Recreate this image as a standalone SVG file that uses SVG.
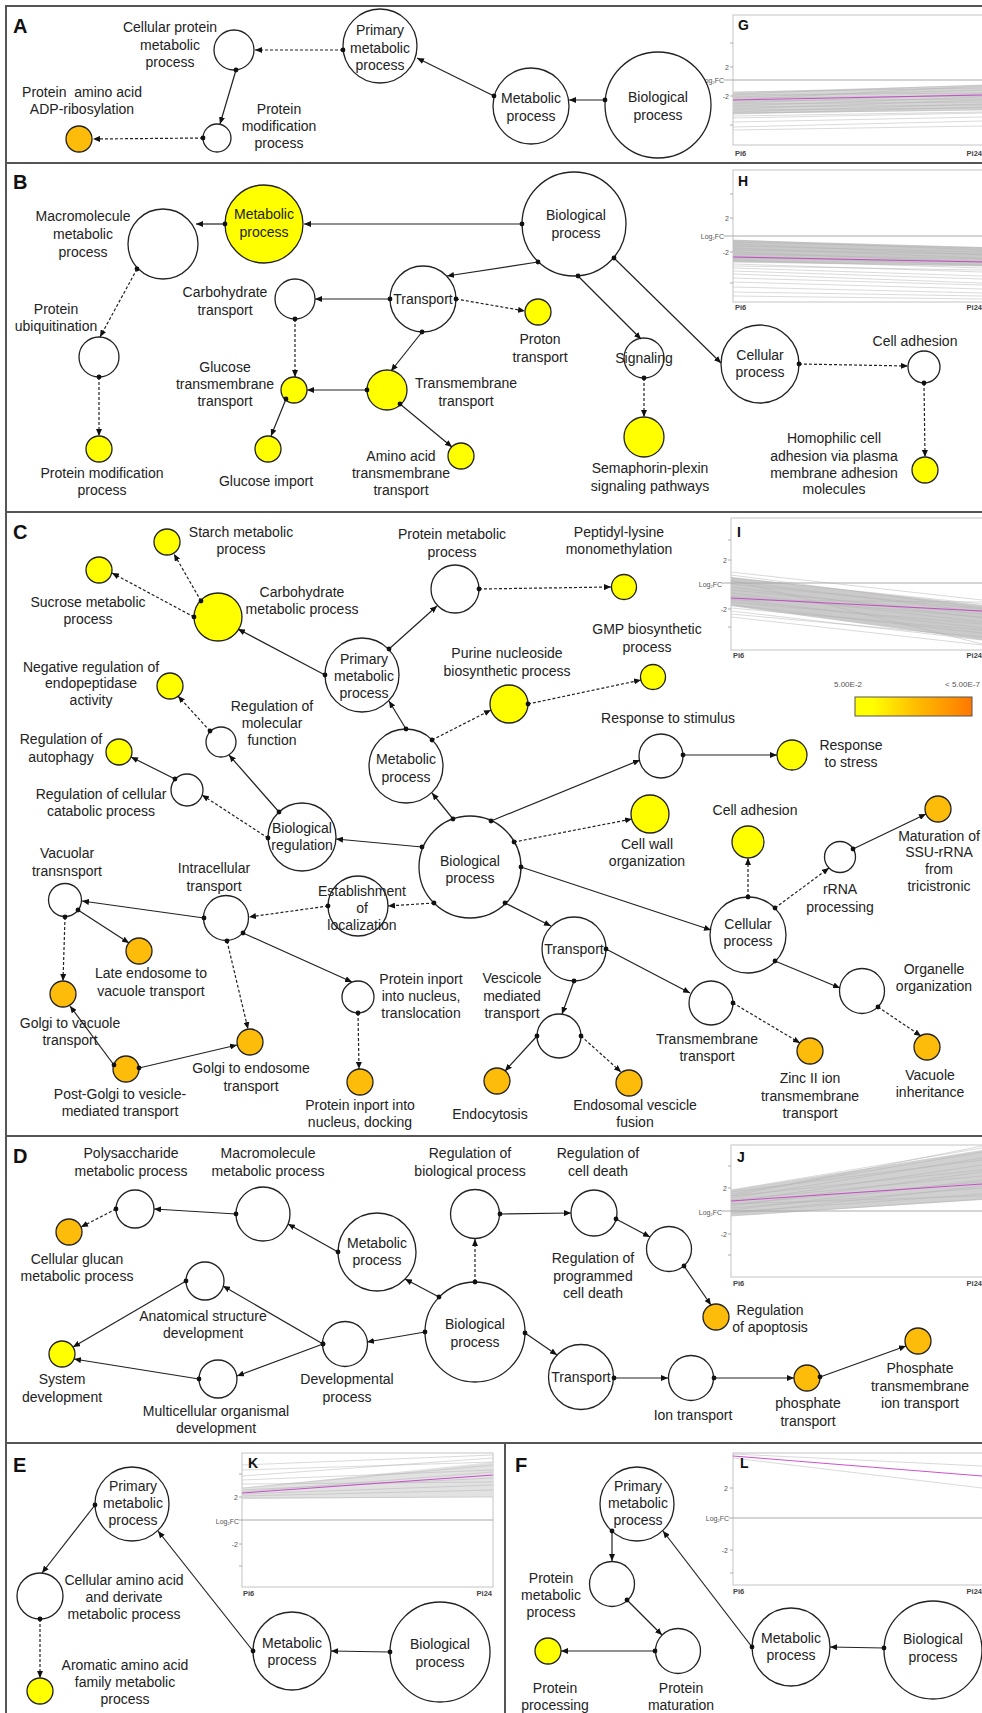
<svg xmlns="http://www.w3.org/2000/svg" width="982" height="1713" viewBox="0 0 982 1713">
<style>
.n{fill:#fff;stroke:#222;stroke-width:1.3}
.y{fill:#ffff00;stroke:#222;stroke-width:1.3}
.o{fill:#fdbb0a;stroke:#222;stroke-width:1.3}
text{font-family:"Liberation Sans",Arial,sans-serif}
.t{font-size:14px;fill:#222;text-anchor:middle}
.e{fill:none;stroke:#222;stroke-width:1.2;marker-start:url(#dot);marker-end:url(#arr)}
.d{stroke-dasharray:3 2}
.pl{font-size:20px;font-weight:bold;fill:#111}
.cl{font-size:14px;font-weight:bold;fill:#111}
.ax{font-size:7px;fill:#555;text-anchor:end}
.px{font-size:7.5px;font-weight:bold;fill:#444}
.fr{fill:#fff;stroke:#c4c4c4;stroke-width:1}
.z{stroke:#aaa;stroke-width:1}
.gl{fill:none;stroke:#b4b4b4;stroke-width:0.5}
.mg{fill:none;stroke:#c83cc8;stroke-width:0.9}
.tk{stroke:#999;stroke-width:0.8}
.sep{stroke:#555;stroke-width:2;fill:none}
</style>
<defs>
<marker id="arr" markerWidth="7" markerHeight="6" refX="7" refY="3" orient="auto" markerUnits="userSpaceOnUse"><path d="M0,0 L7,3 L0,6 z" fill="#111"/></marker>
<marker id="dot" markerWidth="6" markerHeight="6" refX="3" refY="3" markerUnits="userSpaceOnUse"><circle cx="3" cy="3" r="2.4" fill="#111"/></marker>
<linearGradient id="lg" x1="0" y1="0" x2="1" y2="0"><stop offset="0" stop-color="#ffff00"/><stop offset="0.15" stop-color="#ffff00"/><stop offset="0.5" stop-color="#ffc000"/><stop offset="1" stop-color="#ff7800"/></linearGradient>
</defs>
<rect width="982" height="1713" fill="#fff"/>

<g id="frame">
<path class="sep" d="M6,1713V6H982M6,163H982M6,512H982M6,1136H982M6,1443H982M505,1443V1713"/>
<text class="pl" x="13" y="33">A</text>
<text class="pl" x="13" y="189">B</text>
<text class="pl" x="13" y="539">C</text>
<text class="pl" x="13" y="1163">D</text>
<text class="pl" x="13" y="1472">E</text>
<text class="pl" x="515" y="1472">F</text>
</g>

<g id="charts">
<g id="chart-G">
<rect class="fr" x="733" y="15" width="260" height="130"/>
<polygon fill="#d6d6d6" points="733,92 982,85 982,110 733,114"/>
<path class="gl" d="M733,92L982,88M733,94L982,85M733,95L982,93M733,97L982,90M733,98L982,96M733,100L982,86M733,101L982,99M733,103L982,94M733,104L982,102M733,106L982,97M733,107L982,105M733,109L982,100M733,110L982,108M733,112L982,104M733,113L982,110M733,114L982,107M733,116L982,112M733,118L982,113M733,122L982,117M733,127L982,121M733,130L982,126"/>
<line class="z" x1="724" y1="80" x2="982" y2="80"/>
<path class="mg" d="M733,100L982,95"/>
<path class="tk" d="M730,43h3M730,67h3M730,96h3M730,125h3"/>
<text class="cl" x="738" y="30">G</text>
<text class="ax" x="729" y="70">2</text>
<text class="ax" x="724" y="83" font-size="6">Log<tspan font-size="4" dy="1">2</tspan><tspan dy="-1">FC</tspan></text>
<text class="ax" x="729" y="99">-2</text>
<text class="px" x="735" y="156">Pi6</text>
<text class="px" x="982" y="156" text-anchor="end">Pi24</text>
</g>
<g id="chart-H">
<rect class="fr" x="733" y="170" width="260" height="132"/>
<polygon fill="#c8c8c8" points="733,240 982,247 982,266 733,262"/>
<path class="gl" d="M733,240L982,250M733,242L982,248M733,244L982,255M733,246L982,252M733,248L982,258M733,250L982,254M733,252L982,262M733,254L982,259M733,256L982,265M733,258L982,261M733,260L982,268M733,262L982,266M733,264L982,272M733,266L982,270M733,268L982,276M733,271L982,279M733,274L982,283M733,278L982,285M733,282L982,289M733,287L982,293M733,292L982,296M733,296L982,299"/>
<line class="z" x1="724" y1="236" x2="982" y2="236"/>
<path class="mg" d="M733,257L982,262"/>
<path class="tk" d="M730,194h3M730,218h3M730,252h3M730,283h3"/>
<text class="cl" x="738" y="186">H</text>
<text class="ax" x="729" y="221">2</text>
<text class="ax" x="724" y="239" font-size="6">Log<tspan font-size="4" dy="1">2</tspan><tspan dy="-1">FC</tspan></text>
<text class="ax" x="729" y="255">-2</text>
<text class="px" x="735" y="310">Pi6</text>
<text class="px" x="982" y="310" text-anchor="end">Pi24</text>
</g>
<g id="chart-I">
<rect class="fr" x="731" y="518" width="262" height="132"/>
<polygon fill="#cacaca" points="731,577 982,605 982,640 731,606"/>
<path class="gl" d="M731,572L982,600M731,575L982,608M731,578L982,604M731,581L982,612M731,584L982,609M731,587L982,618M731,590L982,614M731,593L982,622M731,596L982,617M731,599L982,628M731,602L982,624M731,605L982,633M731,608L982,630M731,611L982,640M731,614L982,637M731,617L982,645M731,580L982,644M731,600L982,602"/>
<line class="z" x1="722" y1="583" x2="982" y2="583"/>
<path class="mg" d="M731,598L982,611"/>
<path class="tk" d="M728,540h3M728,560h3M728,609h3M728,627h3"/>
<text class="cl" x="737" y="537">I</text>
<text class="ax" x="727" y="563">2</text>
<text class="ax" x="722" y="587" font-size="6">Log<tspan font-size="4" dy="1">2</tspan><tspan dy="-1">FC</tspan></text>
<text class="ax" x="727" y="612">-2</text>
<text class="px" x="733" y="658">Pi6</text>
<text class="px" x="982" y="658" text-anchor="end">Pi24</text>
</g>
<g id="legend">
<text x="848" y="687" font-size="8" fill="#555" text-anchor="middle">5.00E-2</text>
<text x="945" y="687" font-size="8" fill="#555">&lt; 5.00E-7</text>
<rect x="855" y="697" width="117" height="19" fill="url(#lg)" stroke="#555" stroke-width="1"/>
</g>
<g id="chart-J">
<rect class="fr" x="731" y="1145" width="262" height="132"/>
<polygon fill="#d0d0d0" points="731,1190 982,1150 982,1200 731,1216"/>
<path class="gl" d="M731,1190L982,1148M731,1192L982,1160M731,1194L982,1152M731,1196L982,1170M731,1198L982,1158M731,1200L982,1176M731,1202L982,1165M731,1204L982,1182M731,1206L982,1172M731,1208L982,1188M731,1210L982,1180M731,1212L982,1194M731,1214L982,1186M731,1216L982,1199M731,1196L982,1146M731,1204L982,1196"/>
<line class="z" x1="722" y1="1211" x2="982" y2="1211"/>
<path class="mg" d="M731,1201L982,1184"/>
<path class="tk" d="M728,1166h3M728,1188h3M728,1234h3M728,1255h3"/>
<text class="cl" x="737" y="1162">J</text>
<text class="ax" x="727" y="1191">2</text>
<text class="ax" x="722" y="1215" font-size="6">Log<tspan font-size="4" dy="1">2</tspan><tspan dy="-1">FC</tspan></text>
<text class="ax" x="727" y="1237">-2</text>
<text class="px" x="733" y="1286">Pi6</text>
<text class="px" x="982" y="1286" text-anchor="end">Pi24</text>
</g>
<g id="chart-K">
<rect class="fr" x="242" y="1453" width="251" height="134"/>
<polygon fill="#e2e2e2" points="242,1488 493,1462 493,1497 242,1499"/>
<path class="gl" d="M242,1465L493,1455M242,1470L493,1462M242,1476L493,1458M242,1480L493,1470M242,1488L493,1465M242,1490L493,1478M242,1492L493,1472M242,1494L493,1485M242,1496L493,1490M242,1498L493,1497M242,1484L493,1482"/>
<line class="z" x1="239" y1="1520" x2="493" y2="1520"/>
<path class="mg" d="M242,1493L493,1475"/>
<path class="tk" d="M239,1474h3M239,1497h3M239,1544h3M239,1566h3"/>
<text class="cl" x="248" y="1468">K</text>
<text class="ax" x="238" y="1500">2</text>
<text class="ax" x="239" y="1524" font-size="6">Log<tspan font-size="4" dy="1">2</tspan><tspan dy="-1">FC</tspan></text>
<text class="ax" x="238" y="1547">-2</text>
<text class="px" x="243" y="1596">Pi6</text>
<text class="px" x="492" y="1596" text-anchor="end">Pi24</text>
</g>
<g id="chart-L">
<rect class="fr" x="733" y="1453" width="260" height="132"/>
<path class="gl" d="M733,1454L982,1466M733,1458L982,1488"/>
<line class="z" x1="729" y1="1518" x2="982" y2="1518"/>
<path class="mg" d="M733,1456L982,1476"/>
<path class="tk" d="M730,1488h3M730,1550h3M730,1573h3"/>
<text class="cl" x="740" y="1468">L</text>
<text class="ax" x="728" y="1491">2</text>
<text class="ax" x="729" y="1521" font-size="6">Log<tspan font-size="4" dy="1">2</tspan><tspan dy="-1">FC</tspan></text>
<text class="ax" x="728" y="1553">-2</text>
<text class="px" x="733" y="1594">Pi6</text>
<text class="px" x="982" y="1594" text-anchor="end">Pi24</text>
</g>
</g>

<g id="nodes">
<!-- Panel A -->
<g id="a-cpmp"><circle class="n" cx="234" cy="50" r="20"/><text class="t" x="170" y="32">Cellular protein</text><text class="t" x="170" y="50">metabolic</text><text class="t" x="170" y="67">process</text></g>
<g id="a-pmp"><circle class="n" cx="380" cy="46" r="37"/><text class="t" x="380" y="35">Primary</text><text class="t" x="380" y="53">metabolic</text><text class="t" x="380" y="70">process</text></g>
<g id="a-met"><circle class="n" cx="531" cy="106" r="38"/><text class="t" x="531" y="103">Metabolic</text><text class="t" x="531" y="121">process</text></g>
<g id="a-bio"><circle class="n" cx="658" cy="105" r="53"/><text class="t" x="658" y="102">Biological</text><text class="t" x="658" y="120">process</text></g>
<g id="a-pmod"><circle class="n" cx="217" cy="138" r="14"/><text class="t" x="279" y="114">Protein</text><text class="t" x="279" y="131">modification</text><text class="t" x="279" y="148">process</text></g>
<g id="a-adp"><circle class="o" cx="79" cy="139" r="13"/><text class="t" x="82" y="97">Protein&#160; amino acid</text><text class="t" x="82" y="114">ADP-ribosylation</text></g>

<!-- Panel B -->
<g id="b-met"><circle class="y" cx="264" cy="224" r="39"/><text class="t" x="264" y="219">Metabolic</text><text class="t" x="264" y="237">process</text></g>
<g id="b-macro"><circle class="n" cx="163" cy="244" r="35"/><text class="t" x="83" y="221">Macromolecule</text><text class="t" x="83" y="239">metabolic</text><text class="t" x="83" y="257">process</text></g>
<g id="b-bio"><circle class="n" cx="574" cy="224" r="52"/><text class="t" x="576" y="220">Biological</text><text class="t" x="576" y="238">process</text></g>
<g id="b-pu"><circle class="n" cx="99" cy="357" r="20"/><text class="t" x="56" y="314">Protein</text><text class="t" x="56" y="331">ubiquitination</text></g>
<g id="b-pmp"><circle class="y" cx="99" cy="449" r="13"/><text class="t" x="102" y="478">Protein modification</text><text class="t" x="102" y="495">process</text></g>
<g id="b-transport"><circle class="n" cx="423" cy="299" r="33"/><text class="t" x="423" y="304">Transport</text></g>
<g id="b-ct"><circle class="n" cx="295" cy="299" r="20"/><text class="t" x="225" y="297">Carbohydrate</text><text class="t" x="225" y="315">transport</text></g>
<g id="b-gtt"><circle class="y" cx="294" cy="390" r="13"/><text class="t" x="225" y="372">Glucose</text><text class="t" x="225" y="389">transmembrane</text><text class="t" x="225" y="406">transport</text></g>
<g id="b-tt"><circle class="y" cx="387" cy="390" r="20"/><text class="t" x="466" y="388">Transmembrane</text><text class="t" x="466" y="406">transport</text></g>
<g id="b-gi"><circle class="y" cx="268" cy="449" r="13"/><text class="t" x="266" y="486">Glucose import</text></g>
<g id="b-aa"><circle class="y" cx="461" cy="456" r="13"/><text class="t" x="401" y="461">Amino acid</text><text class="t" x="401" y="478">transmembrane</text><text class="t" x="401" y="495">transport</text></g>
<g id="b-proton"><circle class="y" cx="538" cy="312" r="13"/><text class="t" x="540" y="344">Proton</text><text class="t" x="540" y="362">transport</text></g>
<g id="b-sig"><circle class="n" cx="644" cy="358" r="20"/><text class="t" x="644" y="363">Signaling</text></g>
<g id="b-sema"><circle class="y" cx="644" cy="437" r="20"/><text class="t" x="650" y="473">Semaphorin-plexin</text><text class="t" x="650" y="491">signaling pathways</text></g>
<g id="b-cp"><circle class="n" cx="760" cy="364" r="39"/><text class="t" x="760" y="360">Cellular</text><text class="t" x="760" y="377">process</text></g>
<g id="b-ca"><circle class="n" cx="924" cy="367" r="16"/><text class="t" x="915" y="346">Cell adhesion</text></g>
<g id="b-homo"><circle class="y" cx="925" cy="470" r="13"/><text class="t" x="834" y="443">Homophilic cell</text><text class="t" x="834" y="461">adhesion via plasma</text><text class="t" x="834" y="478">membrane adhesion</text><text class="t" x="834" y="494">molecules</text></g>

<!-- Panel C -->
<g id="c-starch"><circle class="y" cx="167" cy="542" r="13"/><text class="t" x="241" y="537">Starch metabolic</text><text class="t" x="241" y="554">process</text></g>
<g id="c-sucrose"><circle class="y" cx="99" cy="570" r="13"/><text class="t" x="88" y="607">Sucrose metabolic</text><text class="t" x="88" y="624">process</text></g>
<g id="c-cmp"><circle class="y" cx="218" cy="617" r="24"/><text class="t" x="302" y="597">Carbohydrate</text><text class="t" x="302" y="614">metabolic process</text></g>
<g id="c-pmp"><circle class="n" cx="362" cy="675" r="37"/><text class="t" x="364" y="664">Primary</text><text class="t" x="364" y="681">metabolic</text><text class="t" x="364" y="698">process</text></g>
<g id="c-protmp"><circle class="n" cx="455" cy="589" r="24"/><text class="t" x="452" y="539">Protein metabolic</text><text class="t" x="452" y="557">process</text></g>
<g id="c-peptidyl"><circle class="y" cx="624" cy="587" r="12.5"/><text class="t" x="619" y="537">Peptidyl-lysine</text><text class="t" x="619" y="554">monomethylation</text></g>
<g id="c-met"><circle class="n" cx="406" cy="766" r="37"/><text class="t" x="406" y="764">Metabolic</text><text class="t" x="406" y="782">process</text></g>
<g id="c-purine"><circle class="y" cx="509" cy="704" r="19"/><text class="t" x="507" y="658">Purine nucleoside</text><text class="t" x="507" y="676">biosynthetic process</text></g>
<g id="c-gmp"><circle class="y" cx="653" cy="677" r="12.5"/><text class="t" x="647" y="634">GMP biosynthetic</text><text class="t" x="647" y="652">process</text></g>
<g id="c-bio"><circle class="n" cx="470" cy="867" r="51"/><text class="t" x="470" y="866">Biological</text><text class="t" x="470" y="883">process</text></g>
<g id="c-br"><circle class="n" cx="302" cy="837" r="34"/><text class="t" x="302" y="833">Biological</text><text class="t" x="302" y="850">regulation</text></g>
<g id="c-rmf"><circle class="n" cx="221" cy="742" r="15"/><text class="t" x="272" y="711">Regulation of</text><text class="t" x="272" y="728">molecular</text><text class="t" x="272" y="745">function</text></g>
<g id="c-negreg"><circle class="y" cx="170" cy="686" r="13"/><text class="t" x="91" y="672">Negative regulation of</text><text class="t" x="91" y="688">endopeptidase</text><text class="t" x="91" y="705">activity</text></g>
<g id="c-rccp"><circle class="n" cx="187" cy="790" r="16"/><text class="t" x="101" y="799">Regulation of cellular</text><text class="t" x="101" y="816">catabolic process</text></g>
<g id="c-rauto"><circle class="y" cx="119" cy="752" r="13"/><text class="t" x="61" y="744">Regulation of</text><text class="t" x="61" y="762">autophagy</text></g>
<g id="c-rs"><circle class="n" cx="661" cy="756" r="22"/><text class="t" x="668" y="723">Response to stimulus</text></g>
<g id="c-rstress"><circle class="y" cx="792" cy="755" r="15"/><text class="t" x="851" y="750">Response</text><text class="t" x="851" y="767">to stress</text></g>
<g id="c-cw"><circle class="y" cx="650" cy="814" r="19"/><text class="t" x="647" y="849">Cell wall</text><text class="t" x="647" y="866">organization</text></g>
<g id="c-cp"><circle class="n" cx="748" cy="935" r="38"/><text class="t" x="748" y="929">Cellular</text><text class="t" x="748" y="946">process</text></g>
<g id="c-ca"><circle class="y" cx="748" cy="842" r="16"/><text class="t" x="755" y="815">Cell adhesion</text></g>
<g id="c-rrna"><circle class="n" cx="840" cy="857" r="15.5"/><text class="t" x="840" y="894">rRNA</text><text class="t" x="840" y="912">processing</text></g>
<g id="c-mat"><circle class="o" cx="938" cy="809" r="13"/><text class="t" x="939" y="841">Maturation of</text><text class="t" x="939" y="857">SSU-rRNA</text><text class="t" x="939" y="874">from</text><text class="t" x="939" y="891">tricistronic</text></g>
<g id="c-oo"><circle class="n" cx="862" cy="991" r="22.5"/><text class="t" x="934" y="974">Organelle</text><text class="t" x="934" y="991">organization</text></g>
<g id="c-vi"><circle class="o" cx="927" cy="1047" r="13"/><text class="t" x="930" y="1080">Vacuole</text><text class="t" x="930" y="1097">inheritance</text></g>
<g id="c-tt"><circle class="n" cx="711" cy="1003" r="22"/><text class="t" x="707" y="1044">Transmembrane</text><text class="t" x="707" y="1061">transport</text></g>
<g id="c-zinc"><circle class="o" cx="810" cy="1051" r="13"/><text class="t" x="810" y="1083">Zinc II ion</text><text class="t" x="810" y="1101">transmembrane</text><text class="t" x="810" y="1118">transport</text></g>
<g id="c-transport"><circle class="n" cx="574" cy="949" r="32"/><text class="t" x="574" y="954">Transport</text></g>
<g id="c-vmt"><circle class="n" cx="559" cy="1036" r="22"/><text class="t" x="512" y="983">Vescicole</text><text class="t" x="512" y="1001">mediated</text><text class="t" x="512" y="1018">transport</text></g>
<g id="c-endo"><circle class="o" cx="497" cy="1081" r="13"/><text class="t" x="490" y="1119">Endocytosis</text></g>
<g id="c-evf"><circle class="o" cx="629" cy="1083" r="13"/><text class="t" x="635" y="1110">Endosomal vescicle</text><text class="t" x="635" y="1127">fusion</text></g>
<g id="c-eol"><circle class="n" cx="358" cy="906" r="30"/><text class="t" x="362" y="896">Establishment</text><text class="t" x="362" y="913">of</text><text class="t" x="362" y="930">localization</text></g>
<g id="c-it"><circle class="n" cx="226" cy="918" r="22.5"/><text class="t" x="214" y="873">Intracellular</text><text class="t" x="214" y="891">transport</text></g>
<g id="c-vt"><circle class="n" cx="65" cy="900" r="16.5"/><text class="t" x="67" y="858">Vacuolar</text><text class="t" x="67" y="876">transnsport</text></g>
<g id="c-le"><circle class="o" cx="139" cy="951" r="13"/><text class="t" x="151" y="978">Late endosome to</text><text class="t" x="151" y="996">vacuole transport</text></g>
<g id="c-gv"><circle class="o" cx="63" cy="994" r="13"/><text class="t" x="70" y="1028">Golgi to vacuole</text><text class="t" x="70" y="1045">transport</text></g>
<g id="c-pg"><circle class="o" cx="126" cy="1069" r="13"/><text class="t" x="120" y="1099">Post-Golgi to vesicle-</text><text class="t" x="120" y="1116">mediated transport</text></g>
<g id="c-ge"><circle class="o" cx="250" cy="1042" r="13"/><text class="t" x="251" y="1073">Golgi to endosome</text><text class="t" x="251" y="1091">transport</text></g>
<g id="c-pit"><circle class="n" cx="358" cy="997" r="16"/><text class="t" x="421" y="984">Protein inport</text><text class="t" x="421" y="1001">into nucleus,</text><text class="t" x="421" y="1018">translocation</text></g>
<g id="c-pid"><circle class="o" cx="360" cy="1082" r="13"/><text class="t" x="360" y="1110">Protein inport into</text><text class="t" x="360" y="1127">nucleus, docking</text></g>

<!-- Panel D -->
<g id="d-poly"><circle class="n" cx="135" cy="1209" r="19"/><text class="t" x="131" y="1158">Polysaccharide</text><text class="t" x="131" y="1176">metabolic process</text></g>
<g id="d-cg"><circle class="o" cx="69" cy="1232" r="13"/><text class="t" x="77" y="1264">Cellular glucan</text><text class="t" x="77" y="1281">metabolic process</text></g>
<g id="d-mmp"><circle class="n" cx="263" cy="1214" r="27"/><text class="t" x="268" y="1158">Macromolecule</text><text class="t" x="268" y="1176">metabolic process</text></g>
<g id="d-met"><circle class="n" cx="377" cy="1252" r="39"/><text class="t" x="377" y="1248">Metabolic</text><text class="t" x="377" y="1265">process</text></g>
<g id="d-bio"><circle class="n" cx="475" cy="1332" r="50"/><text class="t" x="475" y="1329">Biological</text><text class="t" x="475" y="1347">process</text></g>
<g id="d-rbp"><circle class="n" cx="475" cy="1214" r="24.5"/><text class="t" x="470" y="1158">Regulation of</text><text class="t" x="470" y="1176">biological process</text></g>
<g id="d-rcd"><circle class="n" cx="594" cy="1213" r="23"/><text class="t" x="598" y="1158">Regulation of</text><text class="t" x="598" y="1176">cell death</text></g>
<g id="d-rpcd"><circle class="n" cx="669" cy="1249" r="22.5"/><text class="t" x="593" y="1263">Regulation of</text><text class="t" x="593" y="1281">programmed</text><text class="t" x="593" y="1298">cell death</text></g>
<g id="d-rapop"><circle class="o" cx="716" cy="1317" r="13"/><text class="t" x="770" y="1315">Regulation</text><text class="t" x="770" y="1332">of apoptosis</text></g>
<g id="d-transport"><circle class="n" cx="581" cy="1377" r="32.5"/><text class="t" x="581" y="1382">Transport</text></g>
<g id="d-ion"><circle class="n" cx="691" cy="1378" r="22.5"/><text class="t" x="693" y="1420">Ion transport</text></g>
<g id="d-phos"><circle class="o" cx="807" cy="1378" r="13"/><text class="t" x="808" y="1408">phosphate</text><text class="t" x="808" y="1426">transport</text></g>
<g id="d-ptit"><circle class="o" cx="918" cy="1341" r="13"/><text class="t" x="920" y="1373">Phosphate</text><text class="t" x="920" y="1391">transmembrane</text><text class="t" x="920" y="1408">ion transport</text></g>
<g id="d-dp"><circle class="n" cx="345" cy="1344" r="22.5"/><text class="t" x="347" y="1384">Developmental</text><text class="t" x="347" y="1402">process</text></g>
<g id="d-asd"><circle class="n" cx="205" cy="1281" r="19"/><text class="t" x="203" y="1321">Anatomical structure</text><text class="t" x="203" y="1338">development</text></g>
<g id="d-mod"><circle class="n" cx="218" cy="1379" r="19"/><text class="t" x="216" y="1416">Multicellular organismal</text><text class="t" x="216" y="1433">development</text></g>
<g id="d-sd"><circle class="y" cx="62" cy="1354" r="13"/><text class="t" x="62" y="1384">System</text><text class="t" x="62" y="1402">development</text></g>

<!-- Panel E -->
<g id="e-pmp"><circle class="n" cx="132" cy="1504" r="37"/><text class="t" x="133" y="1491">Primary</text><text class="t" x="133" y="1508">metabolic</text><text class="t" x="133" y="1525">process</text></g>
<g id="e-caa"><circle class="n" cx="40" cy="1596" r="23"/><text class="t" x="124" y="1585">Cellular amino acid</text><text class="t" x="124" y="1602">and derivate</text><text class="t" x="124" y="1619">metabolic process</text></g>
<g id="e-aaa"><circle class="y" cx="40" cy="1691" r="13"/><text class="t" x="125" y="1670">Aromatic amino acid</text><text class="t" x="125" y="1687">family metabolic</text><text class="t" x="125" y="1704">process</text></g>
<g id="e-met"><circle class="n" cx="292" cy="1651" r="39"/><text class="t" x="292" y="1648">Metabolic</text><text class="t" x="292" y="1665">process</text></g>
<g id="e-bio"><circle class="n" cx="440" cy="1652" r="50"/><text class="t" x="440" y="1649">Biological</text><text class="t" x="440" y="1667">process</text></g>

<!-- Panel F -->
<g id="f-pmp"><circle class="n" cx="637" cy="1504" r="37"/><text class="t" x="638" y="1491">Primary</text><text class="t" x="638" y="1508">metabolic</text><text class="t" x="638" y="1525">process</text></g>
<g id="f-prmp"><circle class="n" cx="612" cy="1584" r="22.5"/><text class="t" x="551" y="1583">Protein</text><text class="t" x="551" y="1600">metabolic</text><text class="t" x="551" y="1617">process</text></g>
<g id="f-pm"><circle class="n" cx="678" cy="1651" r="22.5"/><text class="t" x="681" y="1693">Protein</text><text class="t" x="681" y="1710">maturation</text></g>
<g id="f-pp"><circle class="y" cx="548" cy="1651" r="13"/><text class="t" x="555" y="1693">Protein</text><text class="t" x="555" y="1710">processing</text></g>
<g id="f-met"><circle class="n" cx="791" cy="1647" r="39"/><text class="t" x="791" y="1643">Metabolic</text><text class="t" x="791" y="1660">process</text></g>
<g id="f-bio"><circle class="n" cx="933" cy="1650" r="49"/><text class="t" x="933" y="1644">Biological</text><text class="t" x="933" y="1662">process</text></g>
</g>

<g id="connectors">
<!-- A -->
<path class="e" d="M605,100L569,100"/>
<path class="e" d="M494,96L417,58"/>
<path class="e d" d="M343,50L255,50"/>
<path class="e" d="M236,70L220,124"/>
<path class="e d" d="M203,138L93,139"/>
<!-- B -->
<path class="e" d="M522,224L304,224"/>
<path class="e" d="M225,224L196,224"/>
<path class="e d" d="M137,269L100,337"/>
<path class="e d" d="M99,377L99,436"/>
<path class="e" d="M538,262L447,276"/>
<path class="e" d="M390,299L315,299"/>
<path class="e d" d="M295,319L295,377"/>
<path class="e" d="M367,390L307,390"/>
<path class="e" d="M422,332L391,371"/>
<path class="e" d="M286,399L271,436"/>
<path class="e" d="M400,404L452,447"/>
<path class="e d" d="M456,299L525,311"/>
<path class="e" d="M578,276L641,339"/>
<path class="e d" d="M644,378L644,417"/>
<path class="e" d="M614,258L721,363"/>
<path class="e d" d="M799,364L908,366"/>
<path class="e d" d="M924,383L925,457"/>
<!-- C -->
<path class="e d" d="M201,601L174,554"/>
<path class="e d" d="M194,617L112,573"/>
<path class="e" d="M325,675L238,629"/>
<path class="e" d="M389,649L437,606"/>
<path class="e d" d="M479,589L611,587"/>
<path class="e" d="M406,729L389,701"/>
<path class="e d" d="M432,740L491,710"/>
<path class="e d" d="M528,704L641,680"/>
<path class="e" d="M453,819L432,793"/>
<path class="e" d="M422,847L336,839"/>
<path class="e" d="M279,812L229,755"/>
<path class="e d" d="M210,731L178,696"/>
<path class="e d" d="M268,838L202,795"/>
<path class="e" d="M175,779L131,757"/>
<path class="e" d="M491,821L640,760"/>
<path class="e" d="M683,755L777,755"/>
<path class="e d" d="M514,842L632,819"/>
<path class="e" d="M521,867L711,930"/>
<path class="e d" d="M748,897L748,858"/>
<path class="e d" d="M775,908L829,868"/>
<path class="e" d="M853,849L926,814"/>
<path class="e" d="M775,961L840,988"/>
<path class="e d" d="M878,1007L921,1036"/>
<path class="e" d="M505,903L551,926"/>
<path class="e" d="M606,949L690,993"/>
<path class="e d" d="M733,1003L800,1043"/>
<path class="e" d="M574,981L562,1014"/>
<path class="e" d="M537,1036L505,1071"/>
<path class="e d" d="M581,1036L621,1072"/>
<path class="e d" d="M434,903L388,906"/>
<path class="e d" d="M328,906L249,917"/>
<path class="e" d="M204,918L82,901"/>
<path class="e" d="M78,910L129,943"/>
<path class="e d" d="M65,917L63,981"/>
<path class="e" d="M114,1065L70,1006"/>
<path class="e" d="M139,1068L237,1045"/>
<path class="e d" d="M227,941L248,1029"/>
<path class="e" d="M243,933L352,982"/>
<path class="e d" d="M358,1013L359,1069"/>
<!-- D -->
<path class="e d" d="M116,1209L81,1227"/>
<path class="e" d="M236,1214L154,1209"/>
<path class="e" d="M338,1252L288,1224"/>
<path class="e" d="M439,1297L405,1279"/>
<path class="e d" d="M475,1282L475,1239"/>
<path class="e" d="M500,1214L571,1213"/>
<path class="e" d="M616,1219L650,1237"/>
<path class="e" d="M684,1266L711,1305"/>
<path class="e" d="M525,1333L557,1355"/>
<path class="e" d="M614,1378L668,1378"/>
<path class="e" d="M714,1378L794,1378"/>
<path class="e" d="M820,1377L906,1346"/>
<path class="e" d="M425,1332L367,1342"/>
<path class="e" d="M323,1344L223,1286"/>
<path class="e" d="M323,1344L237,1376"/>
<path class="e" d="M186,1281L73,1347"/>
<path class="e" d="M199,1379L74,1359"/>
<!-- E -->
<path class="e" d="M390,1652L331,1651"/>
<path class="e" d="M253,1651L158,1531"/>
<path class="e" d="M95,1505L42,1573"/>
<path class="e d" d="M40,1619L40,1678"/>
<!-- F -->
<path class="e" d="M884,1648L830,1647"/>
<path class="e" d="M752,1647L663,1531"/>
<path class="e" d="M612,1531L612,1561"/>
<path class="e" d="M627,1600L662,1635"/>
<path class="e" d="M655,1651L561,1651"/>
</g>
</svg>
